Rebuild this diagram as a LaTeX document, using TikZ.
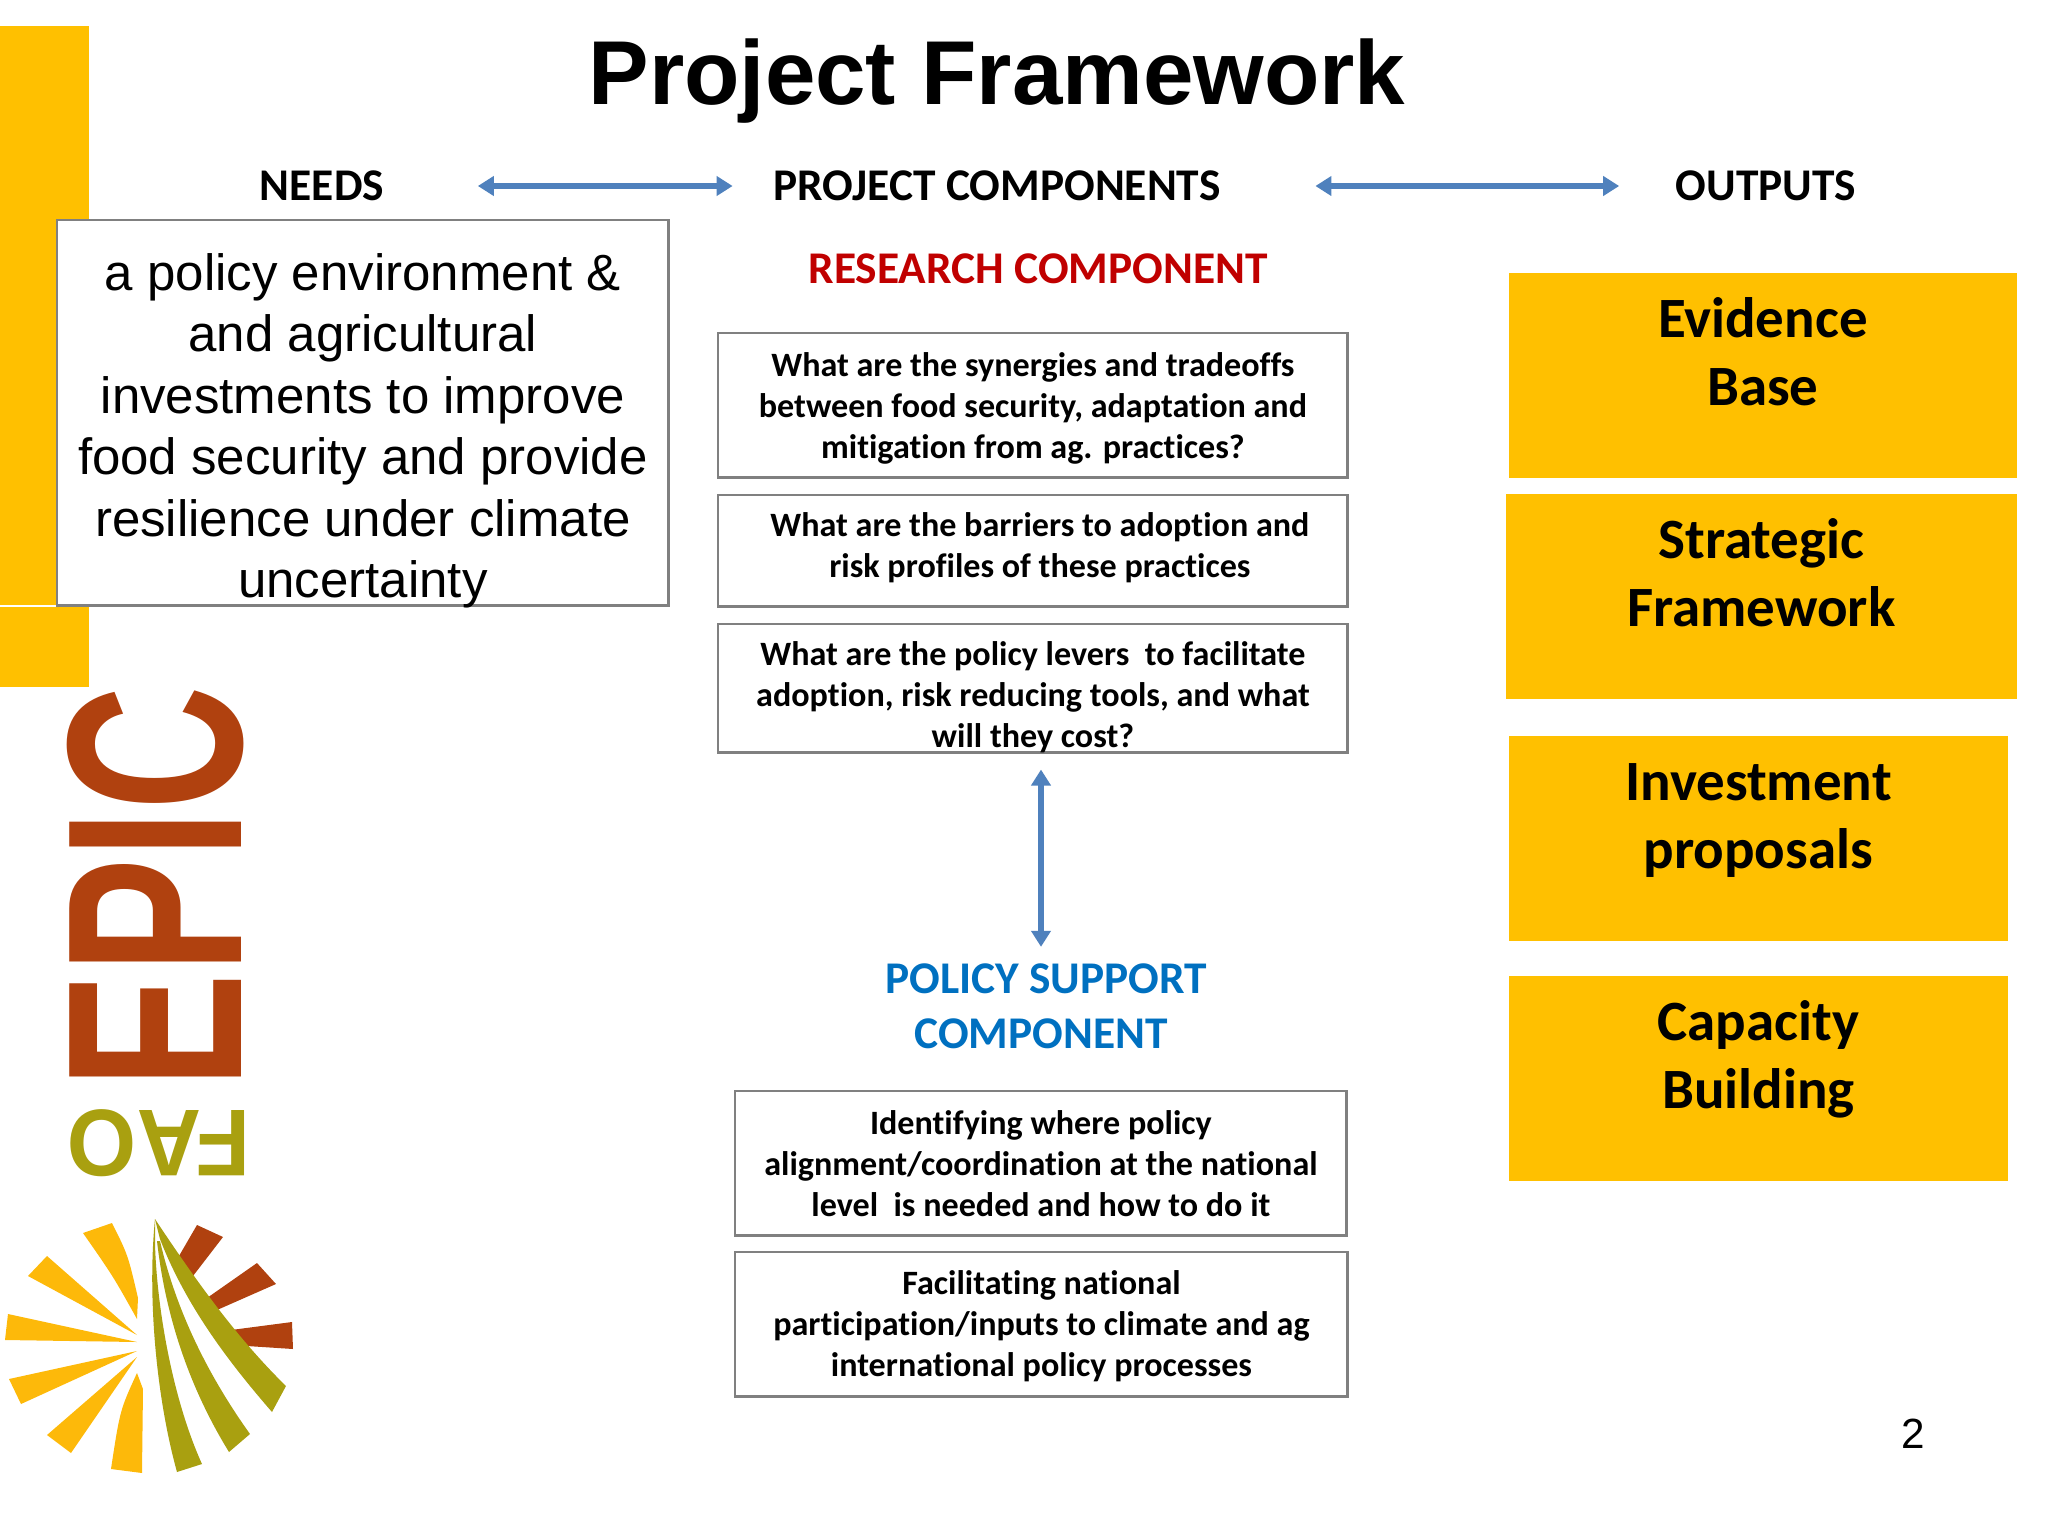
\documentclass[tikz,border=0pt]{standalone}
\usepackage{fontspec}
\setmainfont{Liberation Sans}
\newfontfamily\calibri[Ligatures=NoCommon]{Carlito}
\usetikzlibrary{arrows.meta}
\definecolor{barYellow}{HTML}{FFC000}
\definecolor{sunYellow}{HTML}{FDB90A}
\definecolor{epicRed}{HTML}{B0410F}
\definecolor{faoOlive}{HTML}{A9A010}
\definecolor{linkBlue}{HTML}{4F81BD}
\definecolor{boxGray}{HTML}{808080}
\definecolor{researchRed}{HTML}{C00000}
\definecolor{policyBlue}{HTML}{0070C0}
\tikzset{
    head/.style={inner sep=0pt, font=\calibri\bfseries\fontsize{12.9}{15}\selectfont},
    qbox/.style={draw=boxGray, line width=0.7pt, fill=white, anchor=north west, inner sep=0pt, align=flush center,
        font=\calibri\bfseries\fontsize{9.7}{11.65}\selectfont},
    outbox/.style={fill=barYellow, anchor=north west, inner sep=0pt, align=flush center, text height=0.65cm, text depth=1.40cm,
        font=\calibri\bfseries\fontsize{16.2}{19.3}\selectfont},
    link/.style={{Triangle[length=0.16cm,width=0.19cm]}-{Triangle[length=0.16cm,width=0.19cm]}, draw=linkBlue, fill=linkBlue, line width=1.6pt}
}
\begin{document}
\begin{tikzpicture}[x=0.01cm, y=-0.01cm]
    \useasboundingbox (0,0) rectangle (2048,1536);

    % yellow side bar
    \fill[barYellow] (0,26) rectangle (89,605);
    \fill[barYellow] (0,607) rectangle (89,687);

    % logo
    \node (epic) [rotate=90, inner sep=0pt, text=epicRed, font=\bfseries\fontsize{71}{71}\selectfont] at (156,887) {\scalebox{0.69}[1]{EPIC}};
    \node (fao) [rotate=180, inner sep=0pt, text=faoOlive, font=\bfseries\fontsize{27}{27}\selectfont] at (159,1143) {\scalebox{0.94}[1]{FAO}};
    \fill[sunYellow] (83,1233) -- (112,1223) .. controls (128,1255) .. (138,1298) -- (137,1319) .. controls (113,1276) .. cycle;
    \fill[sunYellow] (28,1276) -- (47,1256) -- (137,1335) -- cycle;
    \fill[sunYellow] (5,1340) -- (8,1314) -- (137,1342) -- cycle;
    \fill[sunYellow] (9,1379) -- (21,1404) -- (137,1351) -- cycle;
    \fill[sunYellow] (47,1435) -- (71,1453) -- (137,1357) -- cycle;
    \fill[sunYellow] (111,1469) -- (142,1473) -- (143,1389) -- (137,1373) .. controls (120,1410) .. cycle;
    \fill[epicRed] (179,1256) -- (197,1225) -- (223,1237) -- (193,1276) -- cycle;
    \fill[epicRed] (207,1298) -- (257,1263) -- (276,1284) -- (217,1310) -- cycle;
    \fill[epicRed] (231,1330) -- (292,1322) -- (293,1349) -- (247,1346) -- cycle;
    \fill[faoOlive] (155,1219) .. controls (147,1300) and (157,1400) .. (177,1472) -- (202,1464) .. controls (173,1400) and (157,1310) .. (155,1244) -- cycle;
    \fill[faoOlive] (157,1241) .. controls (167,1330) and (197,1400) .. (229,1452) -- (250,1434) .. controls (210,1378) and (177,1314) .. (160,1241) -- cycle;
    \fill[faoOlive] (160,1239) .. controls (187,1309) and (233,1367) .. (272,1412) -- (286,1386) .. controls (240,1341) and (200,1287) .. (155,1219) -- cycle;

    % title and column heads
    \node (title) [font=\bfseries\fontsize{25.8}{30}\selectfont] at (997,81) {Project Framework};
    \node (needs) [head] at (322,186) {NEEDS};
    \node (comps) [head] at (997,186) {PROJECT COMPONENTS};
    \node (outs) [head] at (1766,186) {OUTPUTS};
    \draw[link, shorten <=0.93cm, shorten >=0.40cm] (needs) -- (comps);
    \draw[link, shorten <=0.94cm, shorten >=0.56cm] (comps) -- (outs);

    % needs box
    \node (needbox) [draw=boxGray, line width=0.7pt, fill=white, anchor=north west, inner sep=0pt, align=flush center, text width=6.11cm,
        text height=0.70cm, text depth=3.15cm, font=\fontsize{14.5}{17.5}\selectfont] at (56,219)
        {a policy environment \&\\and agricultural\\investments to improve\\food security and provide\\resilience under climate\\uncertainty};

    % research component
    \node (research) [head, text=researchRed] at (1038,269) {RESEARCH COMPONENT};
    \node (q1) [qbox, text width=6.29cm, text height=0.43cm, text depth=1.01cm] at (717,332)
        {What are the synergies and tradeoffs\\between food security, adaptation and\\mitigation from ag. practices?};
    \node (q2) [qbox, text width=6.29cm, text height=0.41cm, text depth=0.70cm] at (717,494)
        {\hspace*{0.14cm}What are the barriers to adoption and\\\hspace*{0.14cm}risk profiles of these practices};
    \node (q3) [qbox, text width=6.29cm, text height=0.41cm, text depth=0.87cm] at (717,623)
        {What are the policy levers\ \ to facilitate\\adoption, risk reducing tools, and what\\will they cost?};

    % policy support component
    \node (policy) [head, text=policyBlue, align=flush center, font=\calibri\bfseries\fontsize{12.9}{15.6}\selectfont] at (1041,1006) {\hspace*{0.10cm}POLICY SUPPORT\\COMPONENT};
    \draw[link, shorten <=0.16cm, shorten >=0.16cm] (policy.north |- q3.south) -- (policy.north);
    \node (p1) [qbox, text width=6.11cm, text height=0.43cm, text depth=1.01cm] at (734,1090)
        {Identifying where policy\\alignment/coordination at the national\\level\ \ is needed and how to do it};
    \node (p2) [qbox, text width=6.12cm, text height=0.42cm, text depth=1.02cm] at (734,1251)
        {Facilitating national\\participation/inputs to climate and ag\\international policy processes};

    % outputs
    \node (o1) [outbox, text width=5.08cm] at (1508,272) {Evidence\\Base};
    \node (o2) [outbox, text width=5.11cm] at (1505,493) {Strategic\\Framework};
    \node (o3) [outbox, text width=4.99cm] at (1508,735) {Investment\\proposals};
    \node (o4) [outbox, text width=4.99cm] at (1508,975) {Capacity\\Building};

    % page number
    \node (pagenum) [font=\fontsize{12}{14}\selectfont] at (1913,1434) {2};
\end{tikzpicture}
\end{document}
